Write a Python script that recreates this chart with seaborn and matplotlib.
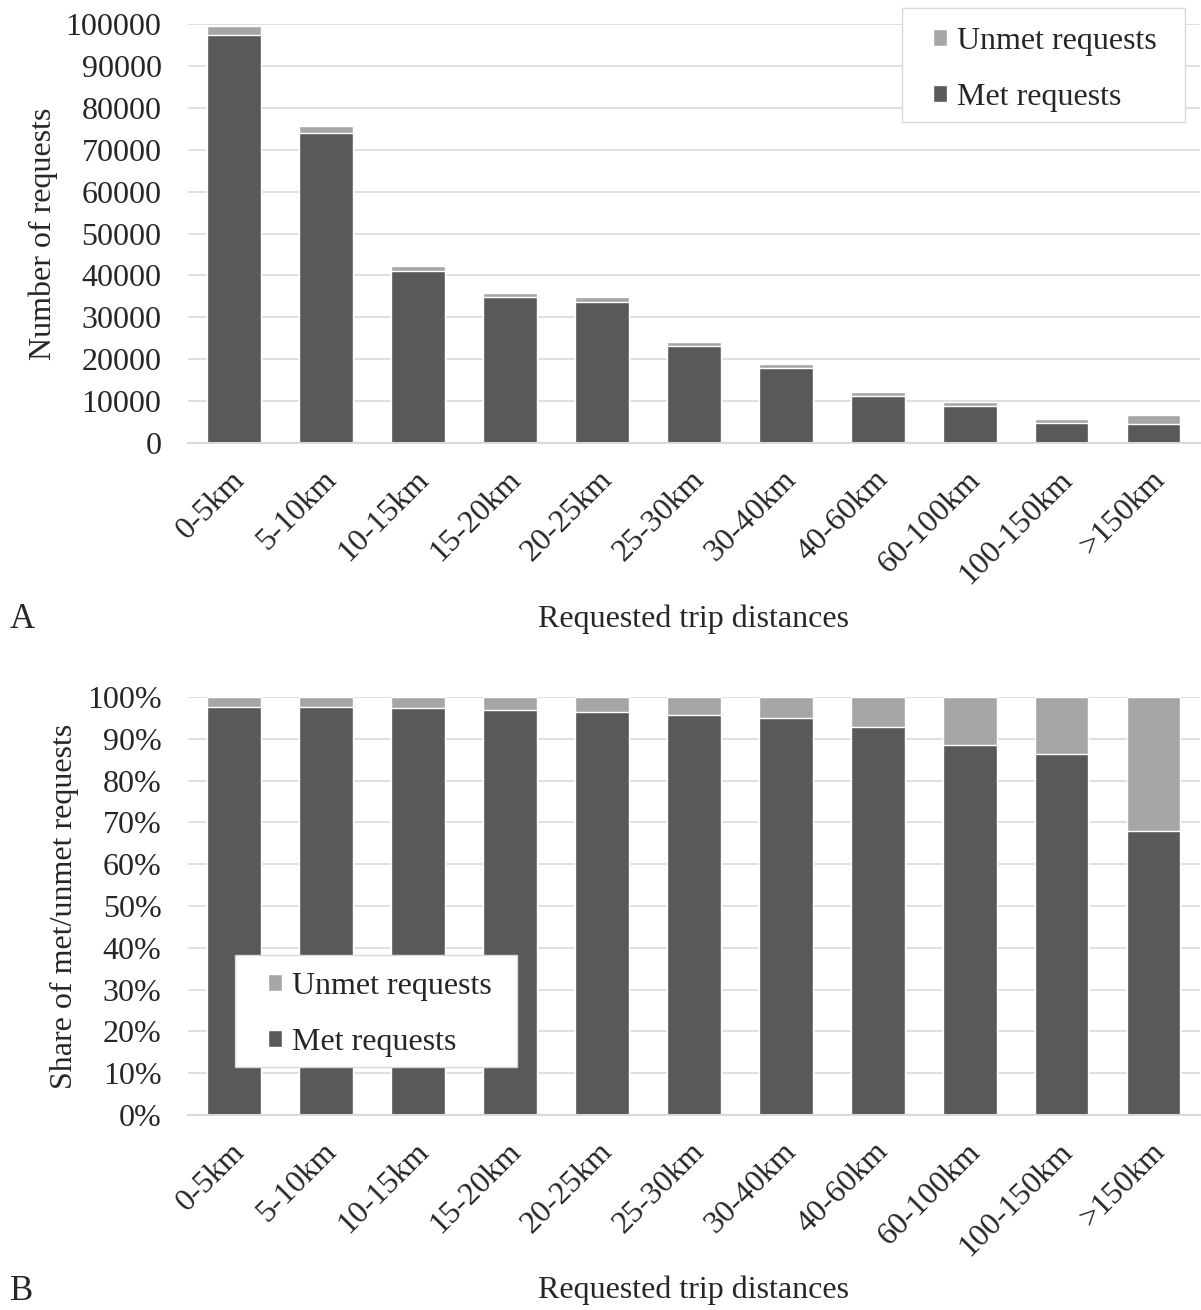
import numpy as np
import pandas as pd
import seaborn as sns
import matplotlib.pyplot as plt
import matplotlib.transforms as mtransforms
from matplotlib.patches import Rectangle

# Donnees
distances = ["0-5km", "5-10km", "10-15km", "15-20km", "20-25km", "25-30km",
             "30-40km", "40-60km", "60-100km", "100-150km", ">150km"]
met_requests = [97400, 73900, 41000, 34900, 33700, 23100, 18000, 11200, 8800, 4900, 4500]
unmet_requests = [2200, 1800, 1200, 900, 1200, 1000, 900, 900, 900, 800, 2200]
met_share = [97.7, 97.7, 97.4, 96.8, 96.5, 95.7, 95.0, 92.8, 88.5, 86.4, 68.0]

y_ticks_a = [0, 10000, 20000, 30000, 40000, 50000, 60000, 70000, 80000, 90000, 100000]
y_ticks_b = [0, 10, 20, 30, 40, 50, 60, 70, 80, 90, 100]

MET_COL = "#595959"
UNMET_COL = "#a6a6a6"
GRID_COL = "#d9d9d9"
FS = 23
W, H = 1201, 1310

sns.set_theme(style="white")
plt.rcParams["font.family"] = ["Liberation Serif", "DejaVu Serif"]

df = pd.DataFrame({"dist": distances, "met": met_requests, "unmet": unmet_requests,
                   "share_met": met_share})
df["total"] = df["met"] + df["unmet"]
df["share_total"] = 100.0

fig = plt.figure(figsize=(W / 100, H / 100), dpi=100)
ax_a = fig.add_axes([0.1565, 0.6618, 0.8425, 0.3199])
ax_b = fig.add_axes([0.1565, 0.1489, 0.8425, 0.3191])


def style_axis(ax, ticks, labels, ylabel, ylabel_x):
    ax.set_ylim(ticks[0], ticks[-1])
    ax.set_xlim(-0.5, len(distances) - 0.5)
    ax.set_yticks(ticks)
    ax.set_yticklabels(labels, fontsize=FS)
    ax.yaxis.grid(True, color=GRID_COL, linewidth=1.2)
    ax.set_axisbelow(True)
    for s in ["top", "right", "left"]:
        ax.spines[s].set_visible(False)
    ax.spines["bottom"].set_color(GRID_COL)
    ax.spines["bottom"].set_linewidth(1.5)
    ax.tick_params(axis="y", length=0, pad=19)
    ax.tick_params(axis="x", length=0, pad=16)
    ax.set_xticks(range(len(distances)))
    ax.set_xticklabels(distances, fontsize=FS, rotation=45, ha="right",
                       rotation_mode="anchor")
    shift = mtransforms.ScaledTranslation(-4 / 100, 0, fig.dpi_scale_trans)
    for lab in ax.get_xticklabels():
        lab.set_transform(lab.get_transform() + shift)
    ax.set_ylabel(ylabel, fontsize=FS)
    ax.yaxis.set_label_coords(ylabel_x, 0.5)
    ax.set_xlabel("Requested trip distances", fontsize=FS)
    ax.xaxis.set_label_coords(0.5, -0.385)


def add_legend(ax, box, text_left, text_top):
    # cadre de legende (pixels figure : x0, y0, x1, y1 depuis le haut)
    x0, y0, x1, y1 = box
    ax.add_patch(Rectangle((x0 / W, 1 - y1 / H), (x1 - x0) / W, (y1 - y0) / H,
                           transform=fig.transFigure, facecolor="white",
                           edgecolor=GRID_COL, linewidth=1.0, zorder=4,
                           clip_on=False))
    ax.legend(loc="upper left", bbox_to_anchor=(text_left / W, 1 - text_top / H),
              bbox_transform=fig.transFigure, fontsize=FS,
              handlelength=0.45, handleheight=0.45, handletextpad=0.3,
              labelspacing=0.85, frameon=False, borderpad=0, borderaxespad=0)


# A - nombre de requetes
sns.barplot(data=df, x="dist", y="total", color=UNMET_COL, width=0.58,
            saturation=1, ax=ax_a, label="Unmet requests")
sns.barplot(data=df, x="dist", y="met", color=MET_COL, width=0.58,
            saturation=1, ax=ax_a, label="Met requests")
style_axis(ax_a, y_ticks_a, [str(t) for t in y_ticks_a], "Number of requests", -0.128)
add_legend(ax_a, (902, 8, 1185, 122), 933, 27)

# B - part des requetes satisfaites / non satisfaites
sns.barplot(data=df, x="dist", y="share_total", color=UNMET_COL, width=0.58,
            saturation=1, ax=ax_b, label="Unmet requests")
sns.barplot(data=df, x="dist", y="share_met", color=MET_COL, width=0.58,
            saturation=1, ax=ax_b, label="Met requests")
style_axis(ax_b, y_ticks_b, [f"{t}%" for t in y_ticks_b],
           "Share of met/unmet requests", -0.108)
add_legend(ax_b, (235, 955, 517, 1067), 268, 972)

fig.text(22 / W, 1 - 620 / H, "A", fontsize=25, ha="center", va="center")
fig.text(22 / W, 1 - 1292 / H, "B", fontsize=25, ha="center", va="center")

fig.savefig("out.png", dpi=100, facecolor="white")
